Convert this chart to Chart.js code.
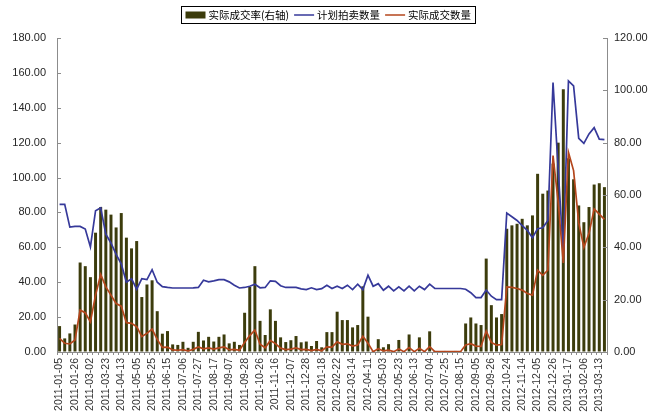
<!DOCTYPE html>
<html>
<head>
<meta charset="utf-8">
<script src="https://cdn.jsdelivr.net/npm/chart.js@4/dist/chart.umd.min.js"></script>
<style>
  html, body { margin: 0; padding: 0; background: #fff; }
  #wrap { width: 656px; height: 417px; }
</style>
</head>
<body>
<div id="wrap"><canvas id="chart" width="656" height="417"></canvas></div>
<script>
// Weekly auction dates (one category per session)
var auctionDates = [
    '2011-01-05', '2011-01-12', '2011-01-19', '2011-01-26', '2011-02-16', '2011-02-23',
    '2011-03-02', '2011-03-09', '2011-03-16', '2011-03-23', '2011-03-30', '2011-04-06',
    '2011-04-13', '2011-04-20', '2011-04-27', '2011-05-05', '2011-05-11', '2011-05-18',
    '2011-05-25', '2011-06-01', '2011-06-08', '2011-06-15', '2011-06-22', '2011-06-29',
    '2011-07-06', '2011-07-13', '2011-07-20', '2011-07-27', '2011-08-03', '2011-08-10',
    '2011-08-17', '2011-08-24', '2011-08-31', '2011-09-07', '2011-09-14', '2011-09-21',
    '2011-09-28', '2011-10-12', '2011-10-19', '2011-10-26', '2011-11-02', '2011-11-09',
    '2011-11-16', '2011-11-23', '2011-11-30', '2011-12-07', '2011-12-14', '2011-12-21',
    '2011-12-28', '2012-01-04', '2012-01-11', '2012-01-18', '2012-02-08', '2012-02-15',
    '2012-02-22', '2012-02-29', '2012-03-07', '2012-03-14', '2012-03-21', '2012-03-28',
    '2012-04-11', '2012-04-18', '2012-04-25', '2012-05-03', '2012-05-09', '2012-05-16',
    '2012-05-23', '2012-05-30', '2012-06-06', '2012-06-13', '2012-06-20', '2012-06-27',
    '2012-07-04', '2012-07-11', '2012-07-18', '2012-07-25', '2012-08-01', '2012-08-08',
    '2012-08-15', '2012-08-22', '2012-08-29', '2012-09-05', '2012-09-12', '2012-09-19',
    '2012-09-26', '2012-10-10', '2012-10-17', '2012-10-24', '2012-10-31', '2012-11-07',
    '2012-11-14', '2012-11-21', '2012-11-28', '2012-12-05', '2012-12-12', '2012-12-19',
    '2012-12-26', '2013-01-03', '2013-01-10', '2013-01-17', '2013-01-24', '2013-01-31',
    '2013-02-06', '2013-02-27', '2013-03-06', '2013-03-13', '2013-03-20'
];

// 实际成交率 (%), right axis
var dealRate = [
    9.9, 5.2, 7.1, 10.5, 34.2, 32.8, 28.6, 45.6, 55.4, 54.4,
    52.5, 47.6, 53.1, 43.7, 39.6, 42.4, 21.0, 25.8, 27.4, 15.6,
    7.0, 8.0, 2.9, 2.7, 3.9, 1.6, 3.9, 7.7, 4.4, 5.8,
    4.0, 5.8, 6.7, 3.3, 3.9, 2.7, 15.0, 24.9, 32.8, 11.9,
    6.5, 16.3, 11.9, 5.6, 3.8, 4.5, 6.1, 3.7, 4.0, 2.3,
    4.2, 1.8, 7.6, 7.6, 15.4, 12.2, 12.2, 9.4, 10.3, 25.1,
    13.5, 0.4, 4.9, 1.8, 3.0, 0.3, 4.6, 0.3, 6.7, 0.3,
    5.6, 0.3, 7.9, 0.4, 0.3, 0.4, 0.3, 0.4, 0.3, 10.9,
    13.2, 10.9, 10.3, 35.7, 17.9, 13.2, 14.5, 47.1, 48.4, 49.0,
    50.9, 48.4, 52.2, 68.1, 60.5, 61.7, 72.0, 80.0, 100.4, 74.0,
    66.0, 56.0, 49.6, 55.4, 64.0, 64.5, 63.0
];

// 计划拍卖数量, left axis
var plannedQty = [
    84.6, 84.6, 71.6, 72.0, 72.0, 70.5, 60.2, 81.0, 82.7, 67.5,
    62.5, 56.0, 50.5, 40.0, 42.0, 36.0, 42.0, 41.5, 47.2, 40.0,
    37.5, 37.0, 36.7, 36.7, 36.7, 36.7, 36.8, 37.0, 41.1, 40.2,
    40.8, 41.5, 41.5, 40.2, 38.3, 36.7, 37.0, 37.7, 38.8, 36.8,
    37.0, 40.8, 40.5, 38.0, 37.0, 37.0, 37.0, 36.2, 35.8, 36.8,
    35.8, 36.3, 38.3, 36.4, 37.7, 36.4, 38.3, 35.8, 38.9, 35.8,
    44.0, 37.7, 39.2, 35.4, 37.7, 35.0, 37.3, 35.0, 37.7, 35.0,
    37.7, 35.8, 38.9, 36.4, 36.4, 36.4, 36.4, 36.4, 36.4, 36.0,
    34.0, 31.2, 31.2, 35.5, 32.0, 30.0, 30.0, 79.6, 77.5, 75.4,
    72.5, 69.7, 65.5, 70.7, 71.2, 75.4, 154.5, 105.0, 56.0, 155.4,
    152.6, 122.5, 119.6, 125.0, 128.6, 122.0, 121.7
];

// 实际成交数量, left axis
var dealQty = [
    7.8, 5.0, 4.6, 6.9, 24.0, 22.5, 17.3, 32.6, 44.4, 37.3,
    32.6, 27.8, 26.3, 16.8, 16.4, 14.5, 8.8, 10.7, 13.1, 7.2,
    2.6, 2.8, 1.2, 1.0, 1.4, 0.6, 1.5, 2.9, 1.8, 2.3,
    1.7, 2.4, 2.9, 1.3, 1.5, 1.0, 5.5, 9.4, 12.6, 4.4,
    2.4, 6.6, 4.8, 2.2, 1.4, 1.7, 2.3, 1.4, 1.5, 0.8,
    1.5, 0.7, 2.9, 2.8, 5.8, 4.4, 4.7, 3.4, 4.0, 9.0,
    5.0, 0.2, 1.9, 0.6, 1.1, 0.2, 1.7, 0.2, 2.5, 0.2,
    2.1, 0.2, 3.1, 0.2, 0.2, 0.2, 0.2, 0.2, 0.2, 4.0,
    4.8, 3.4, 3.2, 12.0, 5.5, 4.0, 4.3, 37.3, 37.0, 36.4,
    35.5, 33.5, 32.6, 46.9, 44.0, 47.0, 112.6, 86.0, 51.0, 114.5,
    104.0, 74.0, 60.0, 68.0, 82.0, 79.0, 76.0
];

var seriesNames = ['实际成交率(右轴)', '计划拍卖数量', '实际成交数量'];
var leftMax = 180, rightMax = 120, tickStep = 20;
var labelEvery = 3;

var C = {
    bar: '#3c3c0c',
    blue: '#36399a',
    red: '#b4461c',
    axis: '#8c8c8c',
    text: '#262626'
};

Chart.defaults.font.family = '"Liberation Sans", Arial, sans-serif';
Chart.defaults.font.size = 11;
Chart.defaults.color = C.text;
Chart.defaults.animation = false;

// Boxed legend across the top: filled swatch for the bars, short strokes for the lines
var boxedLegend = {
    id: 'boxedLegend',
    afterDraw: function (chart) {
        var ctx = chart.ctx;
        var sets = chart.data.datasets;
        var swatchW = 20, gap = 3, spacing = 5, pad = 4;
        ctx.save();
        ctx.font = '10.5px "Noto Sans CJK SC", sans-serif';
        var total = pad * 2;
        var widths = sets.map(function (ds) {
            var w = swatchW + gap + ctx.measureText(ds.label).width;
            total += w;
            return w;
        });
        total += spacing * (sets.length - 1);
        var x0 = Math.round((chart.width - total) / 2) + 0.5;
        var y0 = 6.5, h = 17, cy = y0 + h / 2;
        ctx.strokeStyle = '#000';
        ctx.lineWidth = 1;
        ctx.strokeRect(x0, y0, Math.round(total), h);
        var x = x0 + pad;
        sets.forEach(function (ds, i) {
            if (ds.type === 'bar' || !ds.type) {
                ctx.fillStyle = ds.backgroundColor;
                ctx.fillRect(x, cy - 3.5, swatchW, 7);
            } else {
                ctx.strokeStyle = ds.borderColor;
                ctx.lineWidth = 1.5;
                ctx.beginPath();
                ctx.moveTo(x, cy);
                ctx.lineTo(x + swatchW, cy);
                ctx.stroke();
            }
            ctx.fillStyle = '#000';
            ctx.textBaseline = 'middle';
            ctx.fillText(ds.label, x + swatchW + gap, cy + 0.5);
            x += widths[i] + spacing;
        });
        ctx.restore();
    }
};

// Short tick marks pointing into the plot on both value axes
var innerTicks = {
    id: 'innerTicks',
    afterDraw: function (chart) {
        var ctx = chart.ctx, area = chart.chartArea;
        ctx.save();
        ctx.strokeStyle = C.axis;
        ctx.lineWidth = 1;
        ['y', 'y1'].forEach(function (id) {
            var s = chart.scales[id];
            var onLeft = id === 'y';
            var x = onLeft ? area.left : area.right;
            s.ticks.forEach(function (t) {
                var y = Math.round(s.getPixelForValue(t.value)) + 0.5;
                ctx.beginPath();
                ctx.moveTo(x, y);
                ctx.lineTo(onLeft ? x + 4 : x - 4, y);
                ctx.stroke();
            });
        });
        ctx.restore();
    }
};

new Chart(document.getElementById('chart'), {
    type: 'bar',
    data: {
        labels: auctionDates,
        datasets: [
            {
                type: 'bar',
                label: seriesNames[0],
                data: dealRate,
                yAxisID: 'y1',
                backgroundColor: C.bar,
                categoryPercentage: 1.0,
                barPercentage: 0.58,
                order: 2
            },
            {
                type: 'line',
                label: seriesNames[1],
                data: plannedQty,
                yAxisID: 'y',
                borderColor: C.blue,
                backgroundColor: C.blue,
                borderWidth: 1.7,
                pointRadius: 0,
                tension: 0,
                order: 1
            },
            {
                type: 'line',
                label: seriesNames[2],
                data: dealQty,
                yAxisID: 'y',
                borderColor: C.red,
                backgroundColor: C.red,
                borderWidth: 1.7,
                pointRadius: 0,
                tension: 0,
                order: 0
            }
        ]
    },
    options: {
        responsive: false,
        layout: { padding: { top: 38, right: 0, bottom: 0, left: 0 } },
        plugins: {
            legend: { display: false },
            tooltip: { enabled: false }
        },
        scales: {
            x: {
                offset: true,
                grid: {
                    display: true,
                    drawOnChartArea: false,
                    drawTicks: true,
                    tickLength: 3,
                    offset: true,
                    color: C.axis
                },
                border: { display: true, color: C.axis },
                ticks: {
                    autoSkip: false,
                    maxRotation: 90,
                    minRotation: 90,
                    padding: 3,
                    font: { size: 10.5 },
                    color: '#333',
                    callback: function (v, i) {
                        return i % labelEvery === 0 ? auctionDates[i] : '';
                    }
                },
                afterFit: function (s) { s.height = 65; }
            },
            y: {
                position: 'left',
                min: 0,
                max: leftMax,
                grid: { display: true, drawOnChartArea: false, drawTicks: false },
                border: { display: true, color: C.axis },
                ticks: {
                    stepSize: tickStep,
                    padding: 11,
                    callback: function (v) { return v.toFixed(2); }
                },
                afterFit: function (s) { s.width = 57; }
            },
            y1: {
                position: 'right',
                min: 0,
                max: rightMax,
                grid: { display: true, drawOnChartArea: false, drawTicks: false },
                border: { display: true, color: C.axis },
                ticks: {
                    stepSize: tickStep,
                    padding: 7,
                    callback: function (v) { return v.toFixed(2); }
                },
                afterFit: function (s) { s.width = 49; }
            }
        }
    },
    plugins: [innerTicks, boxedLegend]
});
</script>
</body>
</html>
